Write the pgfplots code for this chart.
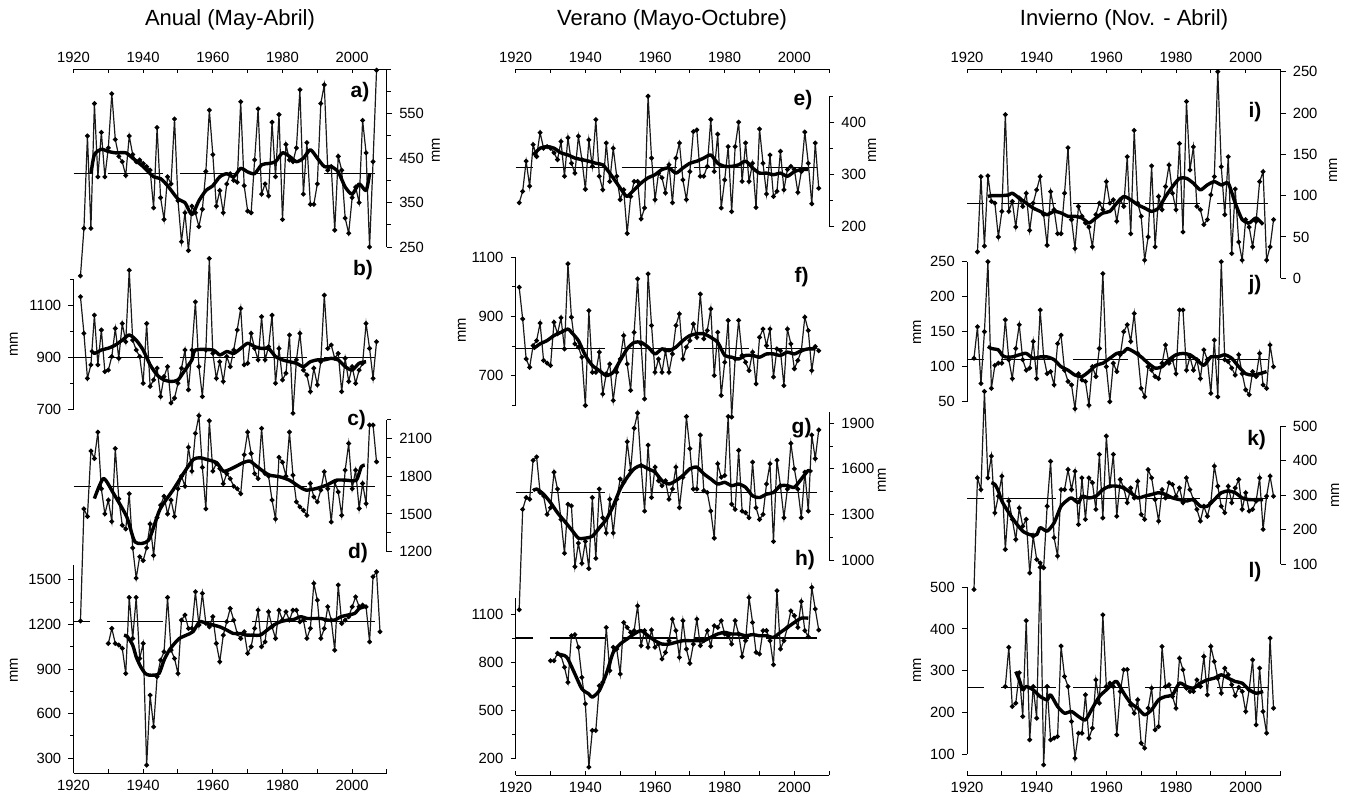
\documentclass[border=0pt]{standalone}
\usepackage{fontspec}
\setmainfont{Liberation Sans}
\usepackage{pgfplots}
\pgfplotsset{compat=1.18}

\newcommand\tk{\fontsize{7.4}{8.8}\selectfont}

\pgfplotsset{
  pan/.style={scale only axis, width=156.75pt, xmin=1920, xmax=2010, clip=false,
    anchor=south west, hide x axis, tick style={black, line width=0.5pt},
    major tick length=2.6pt, minor tick length=1.8pt,
    yticklabel style={font=\tk}, scaled y ticks=false,
    /pgf/number format/1000 sep={}, /pgf/number format/assume math mode=true},
  rpan/.style={pan, axis y line=right, axis line style={-, line width=0.5pt},
    y axis line style={-}, tick align=outside},
  lpan/.style={pan, axis y line=left, axis line style={-, line width=0.5pt},
    y axis line style={-}, tick align=outside},
  frame/.style={scale only axis, width=156.75pt, height=1pt, xmin=1920, xmax=2010,
    ymin=0, ymax=1, anchor=south west, hide y axis, tick style={black, line width=0.5pt},
    xtick={1920,1930,...,2010}, xticklabels={1920,,1940,,1960,,1980,,2000,},
    major tick length=2pt, xticklabel style={font=\tk}},
  ftop/.style={frame, axis x line=top, axis line style={-, line width=0.5pt}, x axis line style={-}, tick align=inside},
  fbot/.style={frame, axis x line=bottom, axis line style={-, line width=0.5pt}, x axis line style={-}, tick align=inside},
  ser/.style={black!90, line width=0.6pt, mark=*, mark size=0.9pt, mark options={solid, black}},
  sm/.style={black, line width=1.7pt, line join=round, no marks, smooth, tension=0.4},
  avg/.style={black, line width=0.55pt, no marks, dash pattern=on 27.5pt off 8.5pt, dash phase=19pt},
}

\begin{document}
\begin{tikzpicture}
\useasboundingbox (0,0) rectangle (676pt,400pt);

% titles
\node[font=\fontsize{11}{13}\selectfont] at (115pt,390pt) {Anual (May-Abril)};
\node[font=\fontsize{11}{13}\selectfont] at (336pt,390pt) {Verano (Mayo-Octubre)};
\node[font=\fontsize{11}{13}\selectfont] at (562pt,390pt) {Invierno (Nov. - Abril)};

% year axes
\begin{axis}[ftop, at={(36.75pt,364.35pt)}]\end{axis}
\begin{axis}[ftop, at={(257.85pt,364.35pt)}]\end{axis}
\begin{axis}[ftop, at={(483.5pt,364.35pt)}]\end{axis}
\begin{axis}[fbot, at={(36.75pt,13.5pt)}]\end{axis}
\begin{axis}[fbot, at={(257.85pt,12.5pt)}]\end{axis}
\begin{axis}[fbot, at={(483.5pt,12.5pt)}]\end{axis}

% ---------- a) ----------
\begin{axis}[rpan, at={(36.75pt,276.5pt)}, height=88.85pt, ymin=250, ymax=650,
  ytick={250,350,450,550}, minor ytick={300,400,500,600,650}]
\addplot[avg] coordinates {(1920,416)(2006.5,416)};
\addplot[ser] coordinates {(1922,185)(1923,292)(1924,500)(1925,292)(1926,573)(1927,408)(1928,508)(1929,408)(1930,473)(1931,595)(1932,492)(1933,454)(1934,442)(1935,411)(1936,500)(1937,458)(1938,442)(1939,446)(1940,438)(1941,431)(1942,423)(1943,338)(1944,519)(1945,361)(1946,312)(1947,408)(1948,392)(1949,538)(1950,354)(1951,262)(1952,327)(1953,242)(1954,342)(1955,327)(1956,296)(1957,335)(1958,420)(1959,558)(1960,458)(1961,342)(1962,377)(1963,327)(1964,392)(1965,415)(1966,400)(1967,396)(1968,577)(1969,388)(1970,331)(1971,327)(1972,446)(1973,561)(1974,369)(1975,392)(1976,365)(1977,531)(1978,408)(1979,548)(1980,312)(1981,481)(1982,446)(1983,442)(1984,473)(1985,604)(1986,369)(1987,485)(1988,346)(1989,346)(1990,392)(1991,573)(1992,615)(1993,423)(1994,431)(1995,288)(1996,454)(1997,423)(1998,315)(1999,281)(2000,361)(2001,385)(2002,350)(2003,535)(2004,462)(2005,250)(2006,442)(2007,648)};
\addplot[sm] coordinates {(1925,415)(1926,458)(1928,470)(1930,465)(1932,462)(1935,462)(1937,450)(1940,431)(1943,408)(1945,404)(1947,388)(1950,358)(1952,350)(1954,323)(1956,354)(1958,377)(1960,388)(1962,408)(1964,415)(1966,408)(1968,427)(1970,419)(1972,415)(1974,435)(1976,438)(1978,442)(1980,462)(1982,454)(1984,442)(1986,450)(1988,469)(1990,450)(1992,431)(1994,431)(1996,419)(1998,385)(2000,369)(2002,392)(2004,377)(2005,415)};
\end{axis}

% ---------- b) ----------
\begin{axis}[lpan, at={(36.75pt,195.35pt)}, height=65pt, ymin=700, ymax=1200,
  ytick={700,900,1100}, minor ytick={800,1000,1200}]
\addplot[avg] coordinates {(1920,900)(2006.5,900)};
\addplot[ser] coordinates {(1922,1133)(1923,992)(1924,819)(1925,871)(1926,1062)(1927,871)(1928,1005)(1929,845)(1930,851)(1931,903)(1932,1011)(1933,896)(1934,1030)(1935,960)(1936,1235)(1937,966)(1938,928)(1939,903)(1940,800)(1941,1030)(1942,788)(1943,813)(1944,858)(1945,749)(1946,826)(1947,864)(1948,724)(1949,743)(1950,800)(1951,858)(1952,928)(1953,775)(1954,928)(1955,1113)(1956,864)(1957,749)(1958,928)(1959,1280)(1960,915)(1961,819)(1962,883)(1963,807)(1964,903)(1965,864)(1966,928)(1967,1005)(1968,1088)(1969,871)(1970,877)(1971,992)(1972,934)(1973,890)(1974,1056)(1975,890)(1976,941)(1977,1062)(1978,800)(1979,934)(1980,813)(1981,839)(1982,986)(1983,685)(1984,890)(1985,992)(1986,851)(1987,832)(1988,768)(1989,858)(1990,794)(1991,883)(1992,1139)(1993,934)(1994,947)(1995,896)(1996,915)(1997,768)(1998,896)(1999,807)(2000,864)(2001,800)(2002,851)(2003,877)(2004,1030)(2005,934)(2006,819)(2007,960)};
\addplot[sm] coordinates {(1925,928)(1926,915)(1928,928)(1930,935)(1932,947)(1934,966)(1936,986)(1938,966)(1940,928)(1942,871)(1944,832)(1946,813)(1948,807)(1950,813)(1952,851)(1954,890)(1955,928)(1960,928)(1962,909)(1964,922)(1966,915)(1968,934)(1970,954)(1972,941)(1974,934)(1976,934)(1978,903)(1980,890)(1982,883)(1984,877)(1986,864)(1988,883)(1990,890)(1992,890)(1994,896)(1996,890)(1998,864)(2000,851)(2002,877)(2004,883)};
\end{axis}

% ---------- c) ----------
\begin{axis}[rpan, at={(36.75pt,124.15pt)}, height=66.1pt, ymin=1200, ymax=2250,
  ytick={1200,1500,1800,2100}, minor ytick={1350,1650,1950,2250}]
\addplot[avg] coordinates {(1920,1720)(2006.5,1720)};
\addplot[ser] coordinates {(1922,650)(1923,1540)(1924,1480)(1925,2000)(1926,1940)(1927,2150)(1928,1700)(1929,1500)(1930,1610)(1931,1440)(1932,2020)(1933,1620)(1934,1410)(1935,1380)(1936,1660)(1937,1230)(1938,990)(1939,1160)(1940,1130)(1941,1230)(1942,1420)(1943,1170)(1944,1470)(1945,1570)(1946,1640)(1947,1500)(1948,1610)(1949,1480)(1950,1700)(1951,1800)(1952,1720)(1953,2030)(1954,1840)(1955,2140)(1956,2280)(1957,1870)(1958,1540)(1959,2240)(1960,1840)(1961,1900)(1962,1860)(1963,1740)(1964,1820)(1965,1780)(1966,1720)(1967,1700)(1968,1660)(1969,1970)(1970,2150)(1971,1980)(1972,1820)(1973,1780)(1974,2180)(1975,1820)(1976,1800)(1977,1610)(1978,1460)(1979,1950)(1980,1910)(1981,1800)(1982,2150)(1983,1808)(1984,1596)(1985,1556)(1986,1529)(1987,1489)(1988,1742)(1989,1635)(1990,1596)(1991,1689)(1992,1835)(1993,1700)(1994,1436)(1995,1755)(1996,1675)(1997,1489)(1998,1848)(1999,2060)(2000,1700)(2001,1848)(2002,1543)(2003,1742)(2004,1582)(2005,2206)(2006,2206)(2007,1914)};
\addplot[sm] coordinates {(1926,1622)(1928.6,1781)(1931.5,1662)(1935.3,1476)(1937.7,1277)(1941.5,1290)(1944.8,1535)(1948.7,1695)(1952,1840)(1954.4,1933)(1956.3,1946)(1958.2,1933)(1961.1,1907)(1963,1840)(1964.9,1854)(1966.8,1880)(1968.7,1907)(1970.6,1920)(1972.5,1880)(1974.4,1840)(1976.3,1808)(1979.2,1795)(1982,1768)(1984.9,1715)(1986.8,1689)(1989.7,1702)(1992.6,1728)(1995.5,1768)(1998.3,1768)(2001.2,1768)(2002.6,1874)(2003.6,1888)};
\end{axis}

% ---------- d) ----------
\begin{axis}[lpan, at={(36.75pt,13.5pt)}, height=104pt, ymin=200, ymax=1600,
  ytick={300,600,900,1200,1500}, minor ytick={450,750,1050,1350}]
\addplot[avg] coordinates {(1920,1218)(2006.5,1218)};
\addplot[ser] coordinates {(1930,1072)(1931,1173)(1932,1072)(1933,1061)(1934,1039)(1935,870)(1936,1382)(1937,1106)(1938,1382)(1939,971)(1940,1072)(1941,253)(1942,724)(1943,511)(1944,848)(1945,960)(1946,1016)(1947,1382)(1948,1027)(1949,971)(1950,870)(1951,1229)(1952,1263)(1953,1173)(1954,1173)(1955,1420)(1956,1196)(1957,1409)(1958,1207)(1959,1184)(1960,1252)(1961,1072)(1962,949)(1963,1128)(1964,1218)(1965,1308)(1966,1229)(1967,1139)(1968,1106)(1969,1151)(1970,1005)(1971,1050)(1972,1173)(1973,1296)(1974,1050)(1975,1083)(1976,1285)(1977,1184)(1978,1106)(1979,1296)(1980,1229)(1981,1285)(1982,1229)(1983,1296)(1984,1296)(1985,1218)(1986,1229)(1987,1106)(1988,1173)(1989,1476)(1990,1364)(1991,1106)(1992,1173)(1993,1319)(1994,1229)(1995,1027)(1996,1465)(1997,1207)(1998,1229)(1999,1252)(2000,1319)(2001,1386)(2002,1319)(2003,1330)(2004,1319)(2005,1083)(2006,1521)(2007,1554)(2008,1151)};
\addplot[sm] coordinates {(1934.5,1128)(1935.5,1117)(1937,1061)(1938,982)(1939.3,915)(1940.6,870)(1941.7,859)(1943.2,859)(1944.6,870)(1946,960)(1947.5,1027)(1949,1072)(1950.4,1106)(1952.4,1128)(1954.3,1151)(1956.2,1218)(1958.2,1207)(1960.1,1196)(1962,1184)(1964,1162)(1965.9,1139)(1967.8,1139)(1969.8,1128)(1971.7,1128)(1973.6,1128)(1975.6,1162)(1977.5,1196)(1979.4,1218)(1981.4,1229)(1983.3,1234)(1985.2,1252)(1987.1,1240)(1989.1,1240)(1991,1240)(1993,1229)(1994.9,1229)(1996.8,1252)(1998.7,1263)(2000.7,1274)(2002.1,1308)(2003.6,1319)};
\end{axis}

% ---------- e) ----------
\begin{axis}[rpan, at={(257.85pt,286.65pt)}, height=65pt, ymin=200, ymax=450,
  ytick={200,300,400}, minor ytick={250,350,450}]
\addplot[avg] coordinates {(1920,313)(2006.5,313)};
\addplot[ser] coordinates {(1921,246)(1922,268)(1923,326)(1924,278)(1925,358)(1926,335)(1927,381)(1928,351)(1929,354)(1930,351)(1931,342)(1932,329)(1933,364)(1934,297)(1935,371)(1936,322)(1937,303)(1938,374)(1939,329)(1940,272)(1941,367)(1942,316)(1943,406)(1944,297)(1945,271)(1946,361)(1947,287)(1948,351)(1949,297)(1950,252)(1951,271)(1952,187)(1953,258)(1954,287)(1955,287)(1956,215)(1957,236)(1958,451)(1959,332)(1960,252)(1961,303)(1962,294)(1963,265)(1964,319)(1965,246)(1966,332)(1967,361)(1968,290)(1969,252)(1970,306)(1971,383)(1972,386)(1973,297)(1974,297)(1975,316)(1976,406)(1977,306)(1978,378)(1979,236)(1980,290)(1981,354)(1982,229)(1983,354)(1984,401)(1985,287)(1986,361)(1987,287)(1988,322)(1989,237)(1990,388)(1991,322)(1992,263)(1993,338)(1994,258)(1995,268)(1996,345)(1997,271)(1998,310)(1999,316)(2000,310)(2001,266)(2002,306)(2003,382)(2004,322)(2005,244)(2006,361)(2007,274)};
\addplot[sm] coordinates {(1925,338)(1927,351)(1929,354)(1931,351)(1933,342)(1935,338)(1937,332)(1939,329)(1941,326)(1943,322)(1945,319)(1947,303)(1949,284)(1951,265)(1952,258)(1954,271)(1956,284)(1958,294)(1960,300)(1962,310)(1964,313)(1966,303)(1968,313)(1970,322)(1972,326)(1974,332)(1976,338)(1978,322)(1980,316)(1982,316)(1984,319)(1986,326)(1988,313)(1990,303)(1992,303)(1994,300)(1996,303)(1998,297)(2000,306)(2002,310)(2004,310)};
\end{axis}

% ---------- f) ----------
\begin{axis}[lpan, at={(257.85pt,197.25pt)}, height=74.1pt, ymin=600, ymax=1100,
  ytick={700,900,1100}, minor ytick={600,800,1000}]
\addplot[avg] coordinates {(1920,791)(2006.5,791)};
\addplot[ser] coordinates {(1921,999)(1922,892)(1923,757)(1924,729)(1925,802)(1926,819)(1927,878)(1928,752)(1929,743)(1930,735)(1931,881)(1932,842)(1933,896)(1934,791)(1935,1078)(1936,898)(1937,808)(1938,797)(1939,763)(1940,600)(1941,920)(1942,712)(1943,712)(1944,780)(1945,639)(1946,707)(1947,740)(1948,617)(1949,712)(1950,757)(1951,836)(1952,740)(1953,651)(1954,847)(1955,1027)(1956,808)(1957,622)(1958,1044)(1959,870)(1960,712)(1961,757)(1962,712)(1963,785)(1964,712)(1965,774)(1966,870)(1967,909)(1968,757)(1969,797)(1970,819)(1971,875)(1972,830)(1973,976)(1974,825)(1975,853)(1976,926)(1977,701)(1978,847)(1979,634)(1980,746)(1981,887)(1982,561)(1983,757)(1984,887)(1985,769)(1986,746)(1987,718)(1988,780)(1989,673)(1990,830)(1991,858)(1992,802)(1993,858)(1994,696)(1995,791)(1996,785)(1997,667)(1998,858)(1999,808)(2000,724)(2001,752)(2002,785)(2003,898)(2004,853)(2005,718)(2006,799)(2007,785)};
\addplot[sm] coordinates {(1925,791)(1927,808)(1929,819)(1931,836)(1933,847)(1935,858)(1936,847)(1938,819)(1940,769)(1942,735)(1944,718)(1946,701)(1948,712)(1950,752)(1952,791)(1954,813)(1956,813)(1958,797)(1960,774)(1962,791)(1964,785)(1966,797)(1968,819)(1970,836)(1972,842)(1974,842)(1976,830)(1978,813)(1980,769)(1982,763)(1984,757)(1986,769)(1988,769)(1990,763)(1992,774)(1994,774)(1996,769)(1998,780)(2000,774)(2002,785)(2004,791)(2006,791)};
\end{axis}

% ---------- g) ----------
\begin{axis}[rpan, at={(257.85pt,120pt)}, height=74.1pt, ymin=1000, ymax=1975,
  ytick={1000,1300,1600,1900}, minor ytick={1150,1450,1750}]
\addplot[avg] coordinates {(1920,1444)(2006.5,1444)};
\addplot[ser] coordinates {(1921,673)(1922,1333)(1923,1411)(1924,1400)(1925,1656)(1926,1678)(1927,1444)(1928,1422)(1929,1300)(1930,1344)(1931,1578)(1932,1467)(1933,1267)(1934,1044)(1935,1367)(1936,1356)(1937,956)(1938,1111)(1939,978)(1940,1122)(1941,944)(1942,1411)(1943,1011)(1944,1467)(1945,1278)(1946,1178)(1947,1400)(1948,1178)(1949,1400)(1950,1533)(1951,1511)(1952,1778)(1953,1589)(1954,1867)(1955,1967)(1956,1622)(1957,1322)(1958,1756)(1959,1411)(1960,1611)(1961,1522)(1962,1489)(1963,1522)(1964,1400)(1965,1467)(1966,1611)(1967,1344)(1968,1544)(1969,1944)(1970,1733)(1971,1467)(1972,1467)(1973,1822)(1974,1456)(1975,1444)(1976,1322)(1977,1144)(1978,1633)(1979,1544)(1980,1556)(1981,1944)(1982,1367)(1983,1333)(1984,1722)(1985,1322)(1986,1311)(1987,1278)(1988,1644)(1989,1344)(1990,1267)(1991,1300)(1992,1500)(1993,1633)(1994,1122)(1995,1656)(1996,1489)(1997,1278)(1998,1467)(1999,1767)(2000,1600)(2001,1467)(2002,1278)(2003,1578)(2004,1322)(2005,1822)(2006,1667)(2007,1856)};
\addplot[sm] coordinates {(1925,1456)(1926,1467)(1928,1433)(1930,1378)(1932,1311)(1934,1256)(1936,1200)(1938,1144)(1940,1144)(1942,1156)(1944,1211)(1946,1267)(1948,1356)(1950,1467)(1952,1544)(1954,1600)(1956,1622)(1958,1600)(1960,1578)(1962,1522)(1964,1500)(1966,1522)(1968,1556)(1970,1600)(1972,1611)(1974,1567)(1976,1533)(1978,1500)(1980,1511)(1982,1489)(1984,1500)(1986,1478)(1988,1422)(1990,1411)(1992,1433)(1994,1444)(1996,1489)(1998,1489)(2000,1478)(2002,1533)(2004,1589)(2005,1578)};
\end{axis}

% ---------- h) ----------
\begin{axis}[lpan, at={(257.85pt,20.85pt)}, height=80pt, ymin=200, ymax=1200,
  ytick={200,500,800,1100}, minor ytick={350,650,950}]
\addplot[avg] coordinates {(1920,952)(2006.5,952)};
\addplot[ser] coordinates {(1930,810)(1931,810)(1932,856)(1933,842)(1934,769)(1935,675)(1936,966)(1937,973)(1938,894)(1939,706)(1940,540)(1941,145)(1942,374)(1943,374)(1944,654)(1945,675)(1946,1018)(1947,748)(1948,894)(1949,883)(1950,727)(1951,1049)(1952,1018)(1953,987)(1954,998)(1955,1153)(1956,904)(1957,998)(1958,894)(1959,1002)(1960,894)(1961,914)(1962,821)(1963,862)(1964,935)(1965,1070)(1966,998)(1967,831)(1968,1060)(1969,883)(1970,794)(1971,914)(1972,1070)(1973,904)(1974,935)(1975,998)(1976,900)(1977,1029)(1978,1018)(1979,1060)(1980,977)(1981,966)(1982,914)(1983,1060)(1984,977)(1985,835)(1986,935)(1987,1205)(1988,1049)(1989,862)(1990,852)(1991,998)(1992,998)(1993,935)(1994,785)(1995,1247)(1996,883)(1997,935)(1998,1018)(1999,1122)(2000,1091)(2001,1018)(2002,1180)(2003,998)(2004,960)(2005,1268)(2006,1133)(2007,1002)};
\addplot[sm] coordinates {(1932,852)(1934,842)(1935,821)(1937,727)(1939,634)(1941,602)(1942,582)(1944,623)(1946,727)(1948,862)(1950,914)(1952,946)(1954,977)(1956,998)(1958,966)(1960,935)(1962,914)(1964,914)(1966,925)(1968,935)(1970,935)(1972,935)(1974,935)(1976,956)(1978,977)(1980,987)(1982,977)(1984,977)(1986,966)(1988,973)(1990,966)(1992,966)(1994,956)(1996,987)(1998,1018)(2000,1049)(2002,1076)(2004,1076)};
\end{axis}

% ---------- i) ----------
\begin{axis}[rpan, at={(483.5pt,260.85pt)}, height=103.3pt, ymin=0, ymax=250,
  ytick={0,50,100,150,200,250}]
\addplot[avg] coordinates {(1920,90)(2006.5,90)};
\addplot[ser] coordinates {(1923,32)(1924,123)(1925,39)(1926,124)(1927,93)(1928,91)(1929,50)(1930,81)(1931,198)(1932,81)(1933,93)(1934,62)(1935,97)(1936,87)(1937,103)(1938,58)(1939,91)(1940,107)(1941,123)(1942,77)(1943,40)(1944,105)(1945,83)(1946,54)(1947,54)(1948,103)(1949,158)(1950,71)(1951,36)(1952,87)(1953,75)(1954,67)(1955,62)(1956,38)(1957,77)(1958,91)(1959,83)(1960,117)(1961,91)(1962,95)(1963,69)(1964,95)(1965,87)(1966,147)(1967,54)(1968,179)(1969,91)(1970,75)(1971,22)(1972,50)(1973,136)(1974,38)(1975,99)(1976,83)(1977,111)(1978,137)(1979,103)(1980,83)(1981,163)(1982,56)(1983,214)(1984,131)(1985,159)(1986,87)(1987,83)(1988,65)(1989,71)(1990,101)(1991,123)(1992,250)(1993,135)(1994,77)(1995,147)(1996,30)(1997,108)(1998,44)(1999,22)(2000,71)(2001,62)(2002,38)(2003,69)(2004,117)(2005,129)(2006,22)(2007,38)(2008,71)};
\addplot[sm] coordinates {(1926,99)(1927,100)(1930,100)(1932,101)(1933,103)(1935,97)(1937,91)(1939,85)(1941,81)(1943,77)(1945,81)(1947,79)(1949,75)(1951,75)(1953,73)(1955,67)(1957,73)(1959,79)(1961,81)(1963,91)(1965,99)(1967,95)(1969,89)(1971,85)(1973,81)(1975,85)(1977,99)(1979,111)(1981,121)(1983,121)(1985,115)(1987,107)(1989,113)(1991,117)(1993,113)(1995,115)(1997,91)(1999,71)(2001,67)(2003,73)(2005,65)};
\end{axis}

% ---------- j) ----------
\begin{axis}[lpan, at={(483.5pt,199.15pt)}, height=70pt, ymin=50, ymax=250,
  ytick={50,100,150,200,250}]
\addplot[avg] coordinates {(1920,110)(2006.5,110)};
\addplot[ser] coordinates {(1922,112)(1923,157)(1924,76)(1925,150)(1926,250)(1927,69)(1928,102)(1929,105)(1930,105)(1931,167)(1932,110)(1933,83)(1934,126)(1935,160)(1936,110)(1937,95)(1938,98)(1939,136)(1940,83)(1941,181)(1942,114)(1943,90)(1944,93)(1945,74)(1946,133)(1947,145)(1948,95)(1949,79)(1950,74)(1951,40)(1952,90)(1953,81)(1954,79)(1955,45)(1956,100)(1957,86)(1958,126)(1959,233)(1960,100)(1961,50)(1962,105)(1963,93)(1964,117)(1965,150)(1966,160)(1967,136)(1968,176)(1969,119)(1970,69)(1971,57)(1972,100)(1973,95)(1974,86)(1975,83)(1976,105)(1977,131)(1978,105)(1979,110)(1980,90)(1981,181)(1982,181)(1983,95)(1984,114)(1985,95)(1986,110)(1987,83)(1988,124)(1989,110)(1990,62)(1991,138)(1992,57)(1993,250)(1994,110)(1995,107)(1996,98)(1997,88)(1998,117)(1999,90)(2000,67)(2001,60)(2002,93)(2003,86)(2004,119)(2005,74)(2006,69)(2007,131)(2008,100)};
\addplot[sm] coordinates {(1926,129)(1927,126)(1929,124)(1930,117)(1931,114)(1933,114)(1935,117)(1937,119)(1939,112)(1941,114)(1943,114)(1945,110)(1947,100)(1949,95)(1951,88)(1953,86)(1955,93)(1957,102)(1959,105)(1961,112)(1963,119)(1965,121)(1966,126)(1968,121)(1970,114)(1972,105)(1974,98)(1976,100)(1978,110)(1980,117)(1982,119)(1984,117)(1986,110)(1988,102)(1990,114)(1992,114)(1994,117)(1996,112)(1998,100)(2000,90)(2002,88)(2004,90)(2006,93)};
\end{axis}

% ---------- k) ----------
\begin{axis}[rpan, at={(483.5pt,117.85pt)}, height=69.15pt, ymin=100, ymax=500,
  ytick={100,200,300,400,500}]
\addplot[avg] coordinates {(1920,290)(2006.5,290)};
\addplot[ser] coordinates {(1922,27)(1923,350)(1924,316)(1925,600)(1926,350)(1927,413)(1928,249)(1929,297)(1930,355)(1931,143)(1932,283)(1933,230)(1934,172)(1935,263)(1936,210)(1937,230)(1938,75)(1939,181)(1940,114)(1941,104)(1942,90)(1943,268)(1944,398)(1945,177)(1946,124)(1947,316)(1948,316)(1949,374)(1950,316)(1951,369)(1952,215)(1953,350)(1954,230)(1955,350)(1956,336)(1957,259)(1958,418)(1959,234)(1960,471)(1961,326)(1962,418)(1963,239)(1964,345)(1965,321)(1966,278)(1967,321)(1968,292)(1969,340)(1970,244)(1971,230)(1972,374)(1973,350)(1974,287)(1975,225)(1976,316)(1977,292)(1978,336)(1979,331)(1980,297)(1981,321)(1982,278)(1983,350)(1984,316)(1985,287)(1986,259)(1987,225)(1988,268)(1989,239)(1990,278)(1991,384)(1992,326)(1993,268)(1994,249)(1995,326)(1996,278)(1997,321)(1998,345)(1999,259)(2000,307)(2001,254)(2002,259)(2003,283)(2004,350)(2005,201)(2006,297)(2007,355)(2008,297)};
\addplot[sm] coordinates {(1927,336)(1928,331)(1929,312)(1930,283)(1932,249)(1934,220)(1936,196)(1938,186)(1940,186)(1941,206)(1943,196)(1945,220)(1947,268)(1949,287)(1950,292)(1952,278)(1953,297)(1955,292)(1957,297)(1959,316)(1961,326)(1963,326)(1965,321)(1967,307)(1969,292)(1971,297)(1973,302)(1975,307)(1977,302)(1979,292)(1981,287)(1983,283)(1985,287)(1987,268)(1989,268)(1991,287)(1993,307)(1995,312)(1997,307)(1999,292)(2001,287)(2003,287)(2005,287)};
\end{axis}

% ---------- l) ----------
\begin{axis}[lpan, at={(483.5pt,23pt)}, height=83.35pt, ymin=100, ymax=500,
  ytick={100,200,300,400,500}]
\addplot[avg] coordinates {(1920,259)(2006.5,259)};
\addplot[ser] coordinates {(1931,262)(1932,356)(1933,214)(1934,222)(1935,295)(1936,190)(1937,420)(1938,134)(1939,262)(1940,186)(1941,548)(1942,74)(1943,262)(1944,134)(1945,138)(1946,142)(1947,359)(1948,286)(1949,262)(1950,178)(1951,90)(1952,150)(1953,150)(1954,242)(1955,138)(1956,162)(1957,278)(1958,222)(1959,434)(1960,262)(1961,270)(1962,262)(1963,146)(1964,250)(1965,302)(1966,303)(1967,218)(1968,198)(1969,230)(1970,126)(1971,114)(1972,210)(1973,258)(1974,158)(1975,166)(1976,358)(1977,262)(1978,266)(1979,238)(1980,210)(1981,330)(1982,302)(1983,258)(1984,250)(1985,250)(1986,278)(1987,262)(1988,334)(1989,242)(1990,358)(1991,322)(1992,282)(1993,246)(1994,306)(1995,290)(1996,266)(1997,240)(1998,260)(1999,250)(2000,202)(2001,254)(2002,326)(2003,170)(2004,306)(2005,202)(2006,150)(2007,378)(2008,210)};
\addplot[sm] coordinates {(1934,298)(1935,278)(1936,254)(1937,262)(1939,254)(1941,238)(1943,230)(1944,242)(1946,214)(1948,198)(1950,202)(1952,190)(1954,182)(1956,210)(1958,238)(1960,254)(1962,270)(1963,274)(1965,246)(1967,222)(1969,210)(1971,194)(1973,206)(1975,230)(1977,238)(1979,242)(1981,270)(1983,262)(1985,258)(1987,270)(1989,278)(1991,282)(1993,290)(1995,282)(1997,274)(1999,270)(2001,254)(2003,246)(2005,250)};
\end{axis}

% panel letters
\begin{scope}[every node/.style={font=\fontsize{10.5}{12}\selectfont\bfseries}]
\node at (180pt,354.2pt) {a)};
\node at (181.5pt,265pt) {b)};
\node at (178.3pt,190pt) {c)};
\node at (179pt,123.5pt) {d)};
\node at (401.5pt,350pt) {e)};
\node at (400.8pt,261.7pt) {f)};
\node at (400.8pt,185.8pt) {g)};
\node at (402.5pt,120pt) {h)};
\node at (627.5pt,344.2pt) {i)};
\node at (627.5pt,257.5pt) {j)};
\node at (628.3pt,180pt) {k)};
\node at (627.5pt,114.2pt) {l)};
\end{scope}

% unit labels
\begin{scope}[every node/.style={font=\tk, rotate=90}]
\node at (218pt,325pt) {mm};
\node at (7pt,228pt) {mm};
\node at (7pt,65pt) {mm};
\node at (436pt,325pt) {mm};
\node at (231pt,235pt) {mm};
\node at (441pt,160pt) {mm};
\node at (666.5pt,315pt) {mm};
\node at (458.5pt,234pt) {mm};
\node at (667.5pt,152.5pt) {mm};
\node at (458.5pt,65pt) {mm};
\end{scope}
\end{tikzpicture}
\end{document}
